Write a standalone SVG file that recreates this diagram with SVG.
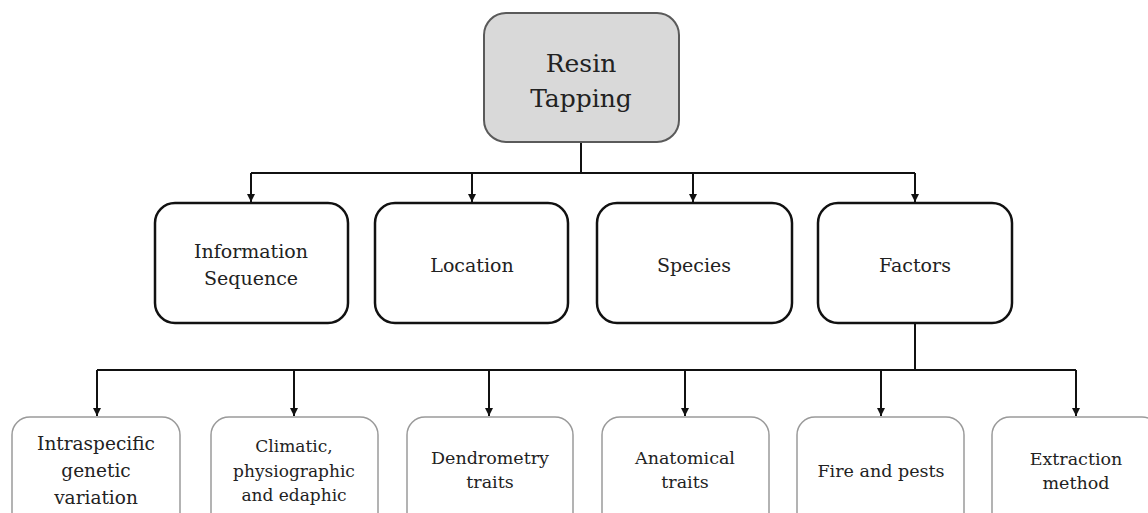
<svg xmlns="http://www.w3.org/2000/svg" width="1148" height="513" viewBox="0 0 1148 513">
<defs>
<marker id="ah" viewBox="0 0 10 10" refX="10" refY="5" markerWidth="8" markerHeight="8" markerUnits="userSpaceOnUse" orient="auto">
<path d="M0,0 L10,5 L0,10 Z" fill="#111"/>
</marker>
<style>
text{font-family:"DejaVu Serif","Liberation Serif",serif;fill:#222;text-anchor:middle}
.top{fill:#d9d9d9;stroke:#5a5a5a;stroke-width:2}
.mid{fill:#fff;stroke:#111;stroke-width:2.5}
.bot{fill:#fff;stroke:#9a9a9a;stroke-width:1.5}
.ln{fill:none;stroke:#111;stroke-width:2}
.arr{fill:none;stroke:#111;stroke-width:2;marker-end:url(#ah)}
.t1{font-size:25px}
.t2{font-size:19px}
.t3{font-size:17.5px}
</style>
</defs>
<rect width="1148" height="513" fill="#fff"/>
<g id="connectors">
<path class="ln" d="M581,142 V173"/>
<path class="ln" d="M251,173 H915"/>
<path class="arr" d="M251,173 V202"/>
<path class="arr" d="M472,173 V202"/>
<path class="arr" d="M693,173 V202"/>
<path class="arr" d="M915,173 V202"/>
<path class="ln" d="M915,323 V370"/>
<path class="ln" d="M97,370 H1076"/>
<path class="arr" d="M97,370 V416"/>
<path class="arr" d="M294,370 V416"/>
<path class="arr" d="M489,370 V416"/>
<path class="arr" d="M685,370 V416"/>
<path class="arr" d="M881,370 V416"/>
<path class="arr" d="M1076,370 V416"/>
</g>
<g id="resin-tapping">
<rect class="top" x="484" y="13" width="195" height="129" rx="22"/>
<text class="t1" x="581" y="72">Resin</text>
<text class="t1" x="581" y="107">Tapping</text>
</g>
<g id="information-sequence">
<rect class="mid" x="155" y="203" width="193" height="120" rx="20"/>
<text class="t2" x="251" y="258">Information</text>
<text class="t2" x="251" y="285">Sequence</text>
</g>
<g id="location">
<rect class="mid" x="375" y="203" width="193" height="120" rx="20"/>
<text class="t2" x="472" y="272">Location</text>
</g>
<g id="species">
<rect class="mid" x="597" y="203" width="195" height="120" rx="20"/>
<text class="t2" x="694" y="272">Species</text>
</g>
<g id="factors">
<rect class="mid" x="818" y="203" width="194" height="120" rx="20"/>
<text class="t2" x="915" y="272">Factors</text>
</g>
<g id="intraspecific">
<rect class="bot" x="12" y="417" width="168" height="120" rx="18"/>
<text class="t3" x="96" y="450" style="font-size:18.5px">Intraspecific</text>
<text class="t3" x="96" y="477" style="font-size:18.5px">genetic</text>
<text class="t3" x="96" y="504" style="font-size:18.5px">variation</text>
</g>
<g id="climatic">
<rect class="bot" x="211" y="417" width="167" height="120" rx="18"/>
<text class="t3" x="294" y="452" style="font-size:17px">Climatic,</text>
<text class="t3" x="294" y="477" style="font-size:17px">physiographic</text>
<text class="t3" x="294" y="501" style="font-size:17px">and edaphic</text>
</g>
<g id="dendrometry">
<rect class="bot" x="407" y="417" width="166" height="120" rx="18"/>
<text class="t3" x="490" y="464">Dendrometry</text>
<text class="t3" x="490" y="488">traits</text>
</g>
<g id="anatomical">
<rect class="bot" x="602" y="417" width="167" height="120" rx="18"/>
<text class="t3" x="685" y="464">Anatomical</text>
<text class="t3" x="685" y="488">traits</text>
</g>
<g id="fire-pests">
<rect class="bot" x="797" y="417" width="167" height="120" rx="18"/>
<text class="t3" x="881" y="477">Fire and pests</text>
</g>
<g id="extraction">
<rect class="bot" x="992" y="417" width="168" height="120" rx="18"/>
<text class="t3" x="1076" y="465">Extraction</text>
<text class="t3" x="1076" y="489">method</text>
</g>
</svg>
